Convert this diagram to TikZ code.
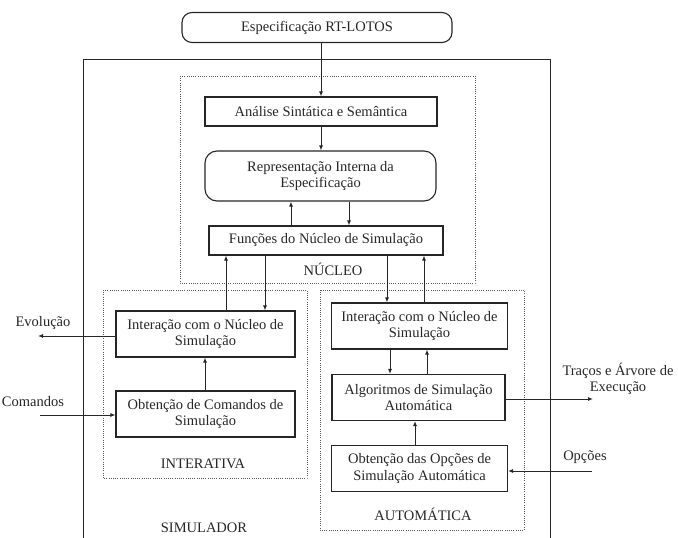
\documentclass[tikz,border=0pt]{standalone}
\usepackage{fontspec}
\setmainfont{Liberation Serif}
\usetikzlibrary{arrows.meta}

\tikzset{
  caixa/.style={draw, line width=1.1pt, align=center, inner sep=0pt, font=\fontsize{14.5}{16.5}\selectfont},
  caixalarga/.style={caixa, minimum width=232pt, minimum height=29pt},
  caixamenor/.style={caixa, minimum width=176pt, minimum height=46pt},
  modulo/.style={draw, line width=0.8pt, dash pattern=on 0.8pt off 1.4pt, black!65},
  rotulo/.style={font=\fontsize{14.5}{16.5}\selectfont, align=center},
  seta/.style={-{Latex[length=5pt,width=4pt]}, line width=1pt},
}

\begin{document}
\begin{tikzpicture}[x=1pt,y=-1pt,color=black!85]
\useasboundingbox (0,0) rectangle (678,538);

% simulador e modulos
\draw[line width=1pt] (83,538) -- (83,59) -- (550,59) -- (550,538);
\draw[modulo] (180,76) rectangle (475,283);
\draw[modulo] (103,290) rectangle (307,478);
\draw[modulo] (320,290) rectangle (524,530);

% nucleo
\node[caixa, rounded corners=10pt, minimum width=270pt, minimum height=30pt] (espec) at (317,27.5) {Especificação RT-LOTOS};
\node[caixalarga] (analise) at (321,111.5) {Análise Sintática e Semântica};
\node[caixa, rounded corners=12pt, minimum width=231pt, minimum height=50pt] (repr) at (320.5,176) {Representação Interna da\\Especificação};
\node[caixalarga, minimum width=234pt] (funcoes) at (326,240.5) {Funções do Núcleo de Simulação};
\node[rotulo] (nucleo) at (333,269) {NÚCLEO};

% interativa
\node[caixamenor, minimum width=179pt] (interL) at (205.5,334) {Interação com o Núcleo de\\Simulação};
\node[caixamenor, minimum width=179pt] (comandos) at (205.5,414) {Obtenção de Comandos de\\Simulação};
\node[rotulo] (interativa) at (203,464) {INTERATIVA};
\node[rotulo] (simulador) at (204,528) {SIMULADOR};

% automatica
\node[caixamenor] (interR) at (419.5,326) {Interação com o Núcleo de\\Simulação};
\node[caixamenor, minimum width=173pt] (algor) at (418.5,397.5) {Algoritmos de Simulação\\Automática};
\node[caixamenor] (opcoes) at (419.5,468.5) {Obtenção das Opções de\\Simulação Automática};
\node[rotulo] (automatica) at (423,514) {AUTOMÁTICA};

% entradas e saidas
\node[rotulo] (evol) at (43,323) {Evolução};
\node[rotulo] (cmd) at (33,402) {Comandos};
\node[rotulo] (tracos) at (618,379) {Traços e Árvore de\\Execução};
\node[rotulo] (opc) at (585,457) {Opções};
\coordinate (saidaEvol) at (38,336);
\coordinate (entCmd) at (40,415);
\coordinate (saidaTr) at (593,399);
\coordinate (entOpc) at (592,471);

\draw[seta] (espec.south -| analise.north) -- (analise.north);
\draw[seta] (analise.south) -- (analise.south |- repr.north);
\draw[seta] (291,0 |- funcoes.north) -- (291,0 |- repr.south);
\draw[seta] (349,0 |- repr.south) -- (349,0 |- funcoes.north);
\draw[seta] (226,0 |- interL.north) -- (226,0 |- funcoes.south);
\draw[seta] (265,0 |- funcoes.south) -- (265,0 |- interL.north);
\draw[seta] (387,0 |- funcoes.south) -- (387,0 |- interR.north);
\draw[seta] (424,0 |- interR.north) -- (424,0 |- funcoes.south);
\draw[seta] (390,0 |- interR.south) -- (390,0 |- algor.north);
\draw[seta] (427,0 |- algor.north) -- (427,0 |- interR.south);
\draw[seta] (415,0 |- opcoes.north) -- (415,0 |- algor.south);
\draw[seta] (comandos.north -| 205,0) -- (interL.south -| 205,0);
\draw[seta] (interL.west |- saidaEvol) -- (saidaEvol);
\draw[seta] (entCmd) -- (comandos.west |- entCmd);
\draw[seta] (algor.east |- saidaTr) -- (saidaTr);
\draw[seta] (entOpc) -- (opcoes.east |- entOpc);
\end{tikzpicture}
\end{document}
